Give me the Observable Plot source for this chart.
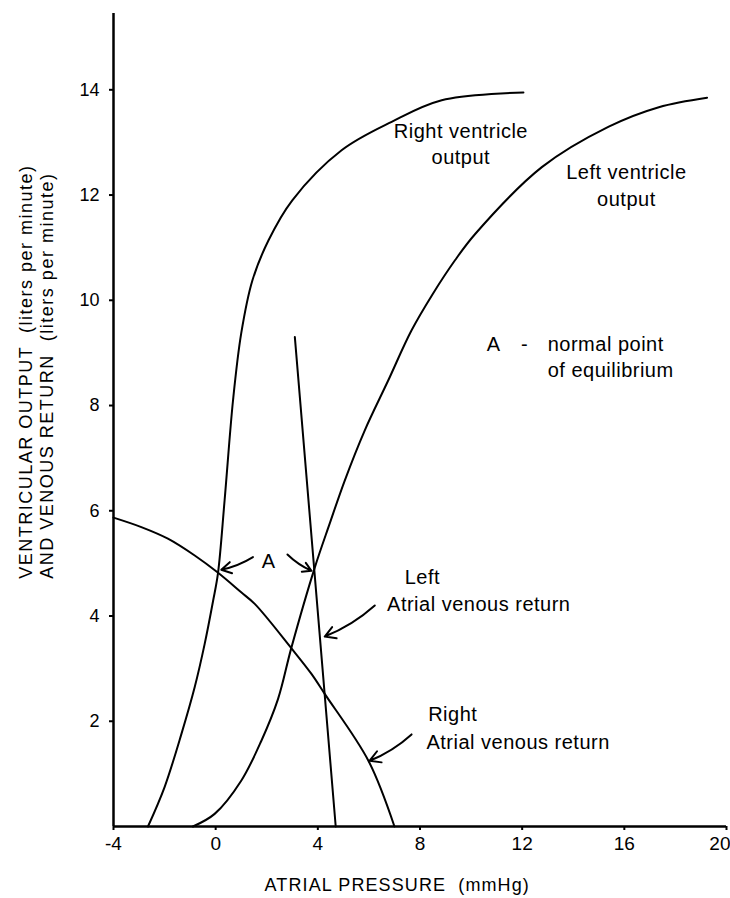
<!DOCTYPE html>
<html>
<head>
<meta charset="utf-8">
<script src="https://cdn.jsdelivr.net/npm/d3@7"></script>
<script src="https://cdn.jsdelivr.net/npm/@observablehq/plot@0.6"></script>
<style>
  html, body { margin: 0; padding: 0; background: #fff; }
  #chart svg text { fill: #000; }
  #chart svg g.notes text { letter-spacing: 0.5px; }
  #chart svg g.ylab text { letter-spacing: 1.5px; }
  #chart svg g.xlab text { letter-spacing: 1.1px; }
</style>
</head>
<body>
<div id="chart"></div>
<script>
// ---- data ----
const xTicks = [-4, 0, 4, 8, 12, 16, 20];
const yTicks = [2, 4, 6, 8, 10, 12, 14];

// Right ventricle output
const rvoX = [-2.65, -2.0, -1.34, -0.82, -0.43, -0.1, 0.09, 0.35, 0.68, 1.0, 1.44, 2.07, 3.0, 4.93, 6.89, 8.85, 12.05];
const rvoY = [0, 0.75, 1.76, 2.65, 3.47, 4.29, 4.81, 6.2, 8.1, 9.37, 10.38, 11.14, 11.9, 12.85, 13.39, 13.8, 13.95];

// Left ventricle output
const lvoX = [-0.89, -0.04, 1.0, 1.79, 2.44, 2.96, 3.88, 4.46, 5.05, 5.83, 6.75, 7.66, 8.5, 9.37, 10.16, 12.77, 15.39, 17.35, 19.24];
const lvoY = [0, 0.24, 0.87, 1.63, 2.42, 3.39, 4.92, 5.75, 6.57, 7.52, 8.47, 9.42, 10.12, 10.76, 11.26, 12.53, 13.3, 13.67, 13.85];

// Left atrial venous return
const lavrX = [3.1, 4.7];
const lavrY = [9.3, 0];

// Right atrial venous return
const ravrX = [-4, -2.91, -1.87, -0.82, 0.07, 1.0, 1.53, 2.96, 3.75, 4.27, 5.98, 7.0];
const ravrY = [5.87, 5.69, 5.47, 5.15, 4.83, 4.45, 4.23, 3.39, 2.9, 2.52, 1.25, 0];

// Annotation labels
const centerNotes = [
  {x: 9.6, y: 13.0, text: "Right ventricle\noutput"},
  {x: 16.08, y: 12.21, text: "Left ventricle\noutput"},
  {x: 10.88, y: 9.2, text: "A"},
  {x: 12.09, y: 9.2, text: "-"},
  {x: 2.08, y: 5.07, text: "A"}
];
const startNotes = [
  {x: 13.0, y: 8.95, text: "normal point\nof equilibrium"},
  {x: 7.4, y: 4.77, text: "Left"},
  {x: 6.71, y: 4.26, text: "Atrial venous return"},
  {x: 8.32, y: 2.17, text: "Right"},
  {x: 8.25, y: 1.63, text: "Atrial venous return"}
];
const arrows = [
  {x1: 1.46, y1: 5.12, x2: 0.22, y2: 4.88, bend: 10},
  {x1: 2.81, y1: 5.17, x2: 3.75, y2: 4.86, bend: -10},
  {x1: 6.23, y1: 4.20, x2: 4.27, y2: 3.61, bend: 10},
  {x1: 7.67, y1: 1.75, x2: 6.03, y2: 1.25, bend: 10}
];
const yLabelLines = [
  {x: -7.41, y: 4.71, text: "VENTRICULAR OUTPUT  (liters per minute)"},
  {x: -6.59, y: 4.71, text: "AND VENOUS RETURN  (liters per minute)"}
];
const xLabel = [{x: 7.11, y: -1.12, text: "ATRIAL PRESSURE  (mmHg)"}];

const pts = (xs, ys) => xs.map((x, i) => ({x, y: ys[i]}));
const FONT = "'Liberation Sans', Arial, sans-serif";
const lineOpts = {x: "x", y: "y", stroke: "#000", strokeWidth: 2, curve: "catmull-rom"};
const lastTick = xTicks[xTicks.length - 1];

const chart = Plot.plot({
  width: 730,
  height: 898,
  marginLeft: 113,
  marginRight: 4,
  marginTop: 13,
  marginBottom: 72,
  x: {domain: [-4, 20]},
  y: {domain: [0, 15.45]},
  style: {fontFamily: FONT, background: "#fff", color: "#000"},
  marks: [
    Plot.axisX({ticks: xTicks, tickSize: 4, tickPadding: 6, tickFormat: d => d === lastTick ? "" : String(d), fontSize: 19, label: null, strokeWidth: 2}),
    Plot.text([lastTick], {x: d => d, text: d => String(d), frameAnchor: "bottom", lineAnchor: "top", dy: 10, dx: 4, textAnchor: "end", fontSize: 19}),
    Plot.axisY({ticks: yTicks, tickSize: 4, tickPadding: 10, fontSize: 18, label: null, strokeWidth: 2}),
    Plot.ruleY([0], {stroke: "#000", strokeWidth: 2.5}),
    Plot.ruleX([-4], {stroke: "#000", strokeWidth: 2.5}),
    Plot.line(pts(rvoX, rvoY), lineOpts),
    Plot.line(pts(lvoX, lvoY), lineOpts),
    Plot.line(pts(lavrX, lavrY), {...lineOpts, curve: "linear"}),
    Plot.line(pts(ravrX, ravrY), lineOpts),
    ...arrows.map(a => Plot.arrow([a], {x1: "x1", y1: "y1", x2: "x2", y2: "y2", bend: a.bend, stroke: "#000", strokeWidth: 2, headLength: 9})),
    Plot.text(centerNotes, {x: "x", y: "y", text: "text", fontSize: 20, lineHeight: 1.33, textAnchor: "middle", className: "notes"}),
    Plot.text(startNotes, {x: "x", y: "y", text: "text", fontSize: 20, lineHeight: 1.33, textAnchor: "start", className: "notes"}),
    Plot.text(yLabelLines, {x: "x", y: "y", text: "text", fontSize: 18, rotate: -90, textAnchor: "start", className: "ylab"}),
    Plot.text(xLabel, {x: "x", y: "y", text: "text", fontSize: 18, textAnchor: "middle", className: "xlab"})
  ]
});
document.getElementById("chart").appendChild(chart);
</script>
</body>
</html>
